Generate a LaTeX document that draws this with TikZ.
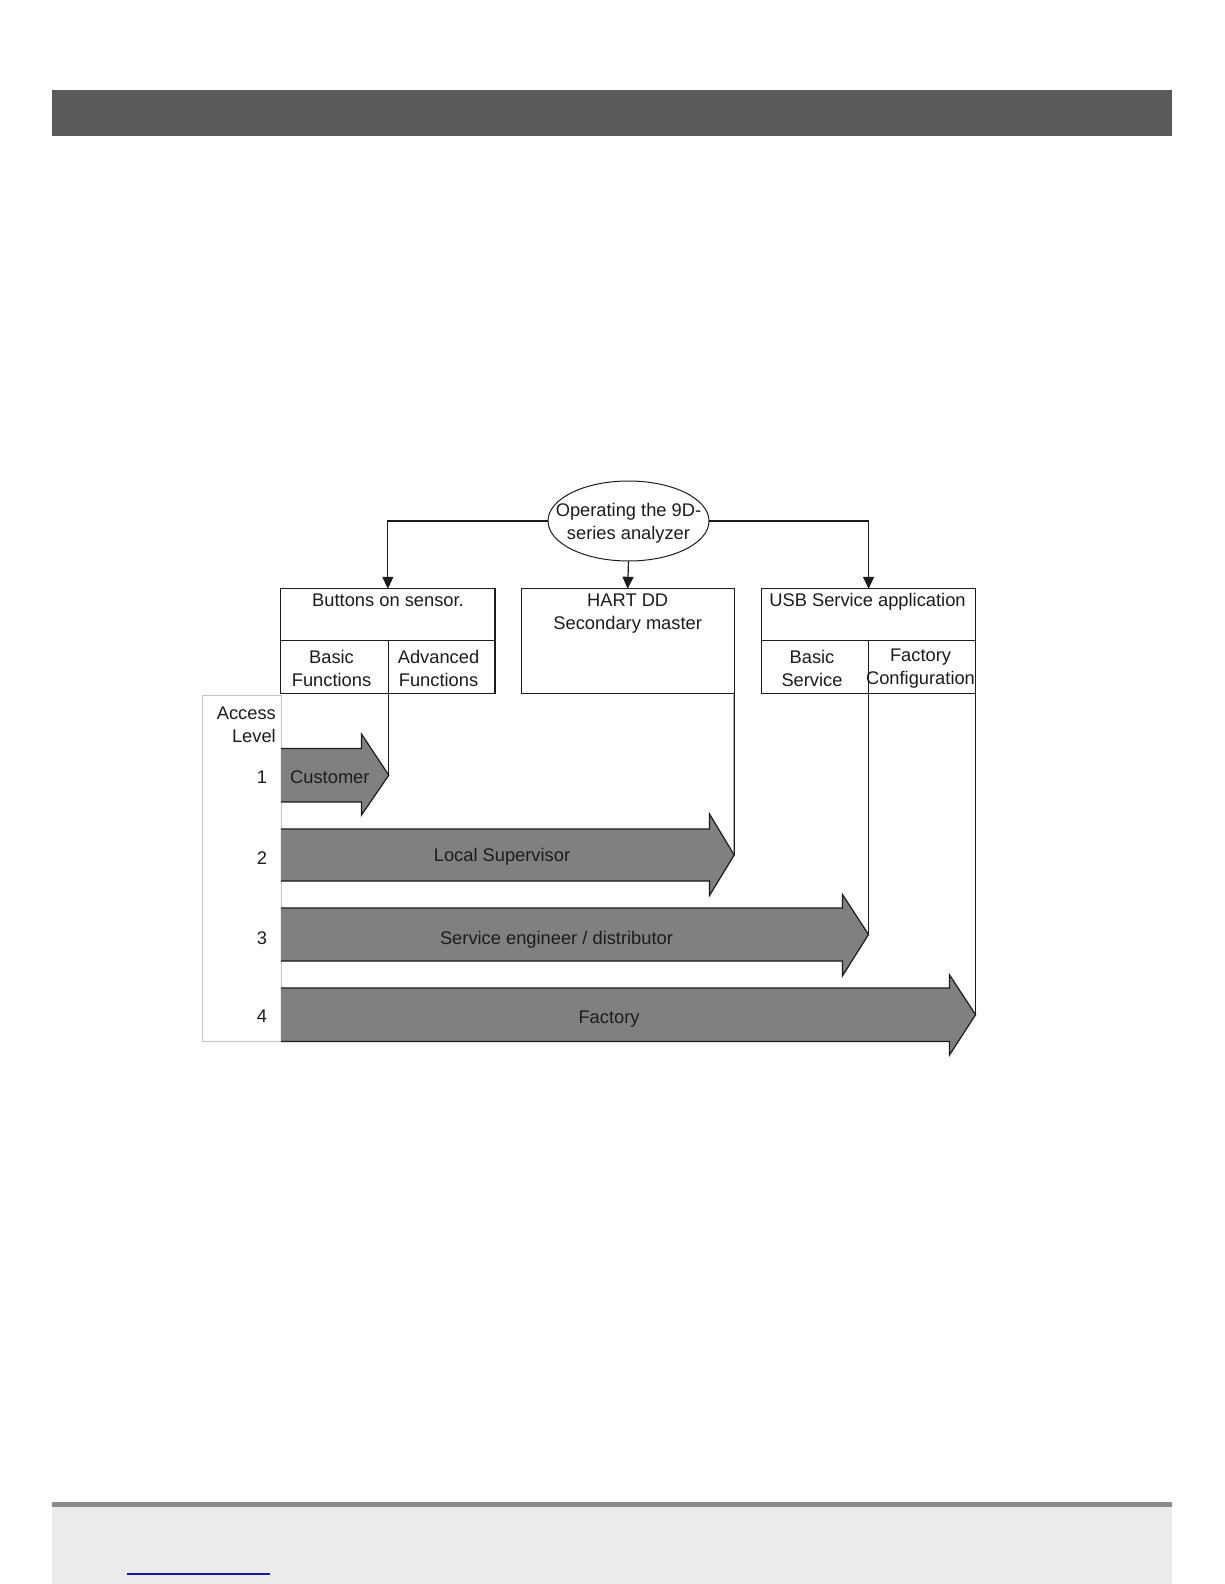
\documentclass[tikz,border=0pt]{standalone}
\usepackage{fontspec}
\setmainfont{Liberation Sans}
\usetikzlibrary{arrows.meta,shapes.geometric}
\definecolor{hdr}{HTML}{5A5A5A}
\definecolor{ink}{HTML}{1C1C1C}
\definecolor{arrgray}{HTML}{808080}
\definecolor{accgray}{HTML}{C4C4C4}
\definecolor{footline}{HTML}{8A8A8A}
\definecolor{footfill}{HTML}{EBEBEB}
\definecolor{linkblue}{HTML}{1A1AA0}
\begin{document}
\begin{tikzpicture}[x=1pt,y=-1pt,
  txt/.style={font=\fontsize{18.3}{23}\selectfont, text=ink, inner sep=0pt, align=center},
  cell/.style={draw=ink, line width=1.2pt, anchor=north west, inner sep=0pt, outer sep=0pt},
  conn/.style={draw=ink, line width=1.2pt},
  arr/.style={conn, -{Triangle[width=11pt,length=12pt]}},
  bigarrow/.style={fill=arrgray, draw=ink, line width=1.2pt, line join=miter},
]
\useasboundingbox (0,0) rectangle (1224,1584);
\fill[white] (0,0) rectangle (1224,1584);

% header and footer bands
\fill[hdr] (52,90) rectangle (1172,136.5);
\fill[footfill] (52,1505) rectangle (1172,1584);
\fill[footline] (52,1502) rectangle (1172,1507);
\draw[linkblue, line width=2pt] (127,1574) -- (270,1574);

% access level column
\node[draw=accgray, line width=0.8pt, anchor=north west, minimum width=78.8, minimum height=346.4, inner sep=0pt] (acc) at (202,694.8) {};
\node[txt, anchor=north east, align=right] (acclbl) at (276,706.5) {Access\\Level};
\node[txt] (n1) at (262,777) {1};
\node[txt] (n2) at (262,858) {2};
\node[txt] (n3) at (262,938) {3};
\node[txt] (n4) at (262,1016.5) {4};

% top ellipse
\node[txt, draw=ink, line width=1pt, ellipse, inner xsep=-15pt, outer sep=0pt, minimum width=161, minimum height=80] (op) at (628.5,521) {};
\node[txt] (oplbl) at (628.5,523) {Operating the 9D-\\series analyzer};

% buttons box
\node[cell, minimum width=214.1, minimum height=51.5] (btnt) at (280.8,588.8) {};
\node[txt] (btnlbl) at (388,600) {Buttons on sensor.};
\node[cell, minimum width=108, minimum height=53.5] (btnb) at (280.8,640.3) {};
\node[cell, minimum width=106.1, minimum height=53.5] (btna) at (388.8,640.3) {};
\node[txt] (btnblbl) at (331.5,668) {Basic\\Functions};
\node[txt] (btnalbl) at (438.5,668) {Advanced\\Functions};

% HART box
\node[cell, minimum width=213.1, minimum height=105] (hart) at (521.1,588.8) {};
\node[txt] (hartlbl) at (627.7,613.5) {HART DD\\Secondary master};

% USB box
\node[cell, minimum width=214.1, minimum height=51.5] (usbt) at (761.5,588.8) {};
\node[txt] (usblbl) at (867.5,602) {USB Service application};
\node[cell, minimum width=107, minimum height=53.5] (usbb) at (761.5,640.3) {};
\node[cell, minimum width=107.1, minimum height=53.5] (usbf) at (868.5,640.3) {};
\node[txt] (usbblbl) at (812,668) {Basic\\Service};
\node[txt] (usbflbl) at (920.5,668.5) {Factory\\Configuration};

% connectors from ellipse
\draw[arr] (op.west) -| (btnt.north);
\draw[arr] (op.south) -- (hart.north);
\draw[arr] (op.east) -| (usbt.north);

% access arrows
\draw[bigarrow] (280.8,748.5) -- (361.5,748.5) -- (361.5,734) -- (388.8,775.2) coordinate (custtip)
  -- (361.5,815) -- (361.5,802) -- (280.8,802);
\node[txt, anchor=west] (cust) at (290,777) {Customer};

\draw[bigarrow] (280.8,829) -- (709.5,829) -- (709.5,814) -- (734.2,855) coordinate (loctip)
  -- (709.5,895.5) -- (709.5,881) -- (280.8,881);
\node[txt] (loc) at (502,857) {Local Supervisor};

\draw[bigarrow] (280.8,908) -- (842.5,908) -- (842.5,894.5) -- (868.5,934.5) coordinate (servtip)
  -- (842.5,975.8) -- (842.5,961) -- (280.8,961);
\node[txt] (serv) at (556.5,940) {Service engineer / distributor};

\draw[bigarrow] (280.8,988) -- (949.5,988) -- (949.5,974.8) -- (975.6,1014.7) coordinate (facttip)
  -- (949.5,1055) -- (949.5,1041.5) -- (280.8,1041.5);
\node[txt] (fact) at (609,1019) {Factory};

% vertical connectors down to arrow tips
\draw[conn] (btnb.south east) -- (custtip);
\draw[conn] (hart.south east) -- (loctip);
\draw[conn] (usbb.south east) -- (servtip);
\draw[conn] (usbf.south east) -- (facttip);
\end{tikzpicture}
\end{document}
